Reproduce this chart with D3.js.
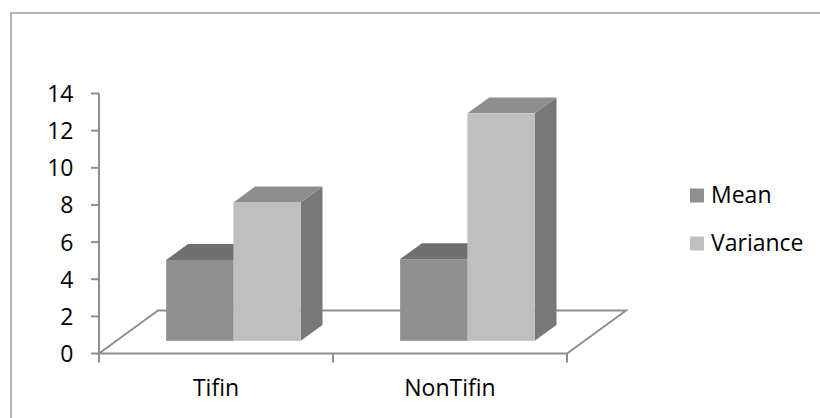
<!DOCTYPE html>
<html>
<head>
<meta charset="utf-8">
<script src="https://cdn.jsdelivr.net/npm/d3@7"></script>
<style>
  html, body { margin: 0; padding: 0; background: #ffffff; }
  svg { display: block; }
  text { font-family: "Open Sans", "Noto Sans", sans-serif; fill: #000; }
</style>
</head>
<body>
<svg id="chart" width="820" height="418"></svg>
<script>
// Chart data
const categories = ["Tifin", "NonTifin"];
const seriesNames = ["Mean", "Variance"];
const meanValues = [4.35, 4.4];
const varianceValues = [7.45, 12.25];
const yTicks = [0, 2, 4, 6, 8, 10, 12, 14];

const seriesValues = [meanValues, varianceValues];
const faceColors = {
  Mean:     { front: "#8f8f8f", top: "#707070", side: "#7a7a7a" },
  Variance: { front: "#bfbfbf", top: "#8e8e8e", side: "#787878" }
};

const svg = d3.select("#chart");
const W = 820, H = 418;
const fontSize = 23;

// Outer chart frame
svg.append("rect")
  .attr("x", 11).attr("y", 13)
  .attr("width", W + 20).attr("height", H + 20)
  .attr("fill", "#fff")
  .attr("stroke", "#9a9a9a").attr("stroke-width", 1.5);

// Plot geometry: front floor edge and oblique depth vector
const left = 99, right = 567, floorY = 353.5;
const depth = { dx: 59, dy: -43 };
const barDepthStart = 0.295, barDepthEnd = 0.665;

const y = d3.scaleLinear().domain([0, 14]).range([floorY, 93.5]);
const x0 = d3.scaleBand().domain(categories).range([left, right])
  .paddingInner(0.425).paddingOuter(0.2125);
const x1 = d3.scaleBand().domain(seriesNames).range([0, x0.bandwidth()]);

const lineColor = "#8f8f8f";

// Floor
const floorPts = [
  [left, floorY], [right, floorY],
  [right + depth.dx, floorY + depth.dy], [left + depth.dx, floorY + depth.dy]
];
svg.append("polygon")
  .attr("points", floorPts.map(p => p.join(",")).join(" "))
  .attr("fill", "#fff")
  .attr("stroke", lineColor).attr("stroke-width", 2)
  .attr("stroke-linejoin", "miter");

// Value axis
svg.append("line")
  .attr("x1", left).attr("x2", left)
  .attr("y1", y(14)).attr("y2", floorY)
  .attr("stroke", lineColor).attr("stroke-width", 2);

const yAxisG = svg.append("g");
yAxisG.selectAll("line").data(yTicks).join("line")
  .attr("x1", left - 8).attr("x2", left)
  .attr("y1", d => y(d)).attr("y2", d => y(d))
  .attr("stroke", lineColor).attr("stroke-width", 2);
yAxisG.selectAll("text").data(yTicks).join("text")
  .attr("x", 73.5).attr("y", d => y(d) + 8.5)
  .attr("text-anchor", "end")
  .attr("font-size", fontSize)
  .text(d => d);

// Category axis ticks and labels
const catTicks = [left, x0.step() * 1 + left, right];
svg.append("g").selectAll("line").data(catTicks).join("line")
  .attr("x1", d => d).attr("x2", d => d)
  .attr("y1", floorY).attr("y2", floorY + 9)
  .attr("stroke", lineColor).attr("stroke-width", 2);
svg.append("g").selectAll("text").data(categories).join("text")
  .attr("x", d => x0(d) + x0.bandwidth() / 2)
  .attr("y", 396)
  .attr("text-anchor", "middle")
  .attr("font-size", fontSize)
  .text(d => d);

// 3D bars (oblique projection)
const fx = depth.dx * barDepthStart, fy = depth.dy * barDepthStart;
const bdx = depth.dx * (barDepthEnd - barDepthStart);
const bdy = depth.dy * (barDepthEnd - barDepthStart);
const baseY = floorY + fy;
const pts = a => a.map(p => p.join(",")).join(" ");

const bars = [];
categories.forEach((c, ci) => {
  seriesNames.forEach((s, si) => {
    bars.push({ cat: c, series: s, value: seriesValues[si][ci] });
  });
});

const barG = svg.append("g");
bars.forEach(b => {
  const xl = x0(b.cat) + x1(b.series) + fx;
  const xr = xl + x1.bandwidth();
  const h = floorY - y(b.value);
  const yt = baseY - h;
  const col = faceColors[b.series];
  const g = barG.append("g");
  // right side face
  g.append("polygon")
    .attr("points", pts([[xr, baseY], [xr + bdx, baseY + bdy], [xr + bdx, yt + bdy], [xr, yt]]))
    .attr("fill", col.side);
  // top face
  g.append("polygon")
    .attr("points", pts([[xl, yt], [xr, yt], [xr + bdx, yt + bdy], [xl + bdx, yt + bdy]]))
    .attr("fill", col.top);
  // front face
  g.append("rect")
    .attr("x", xl).attr("y", yt)
    .attr("width", x1.bandwidth()).attr("height", h)
    .attr("fill", col.front);
});

// Legend
const legend = svg.append("g");
const legendRows = [{ name: "Mean", baseline: 203 }, { name: "Variance", baseline: 251 }];
legend.selectAll("rect").data(legendRows).join("rect")
  .attr("x", 690).attr("y", d => d.baseline - 14.5)
  .attr("width", 14).attr("height", 14)
  .attr("fill", d => faceColors[d.name].front);
legend.selectAll("text").data(legendRows).join("text")
  .attr("x", 711).attr("y", d => d.baseline)
  .attr("font-size", fontSize)
  .text(d => d.name);
</script>
</body>
</html>
